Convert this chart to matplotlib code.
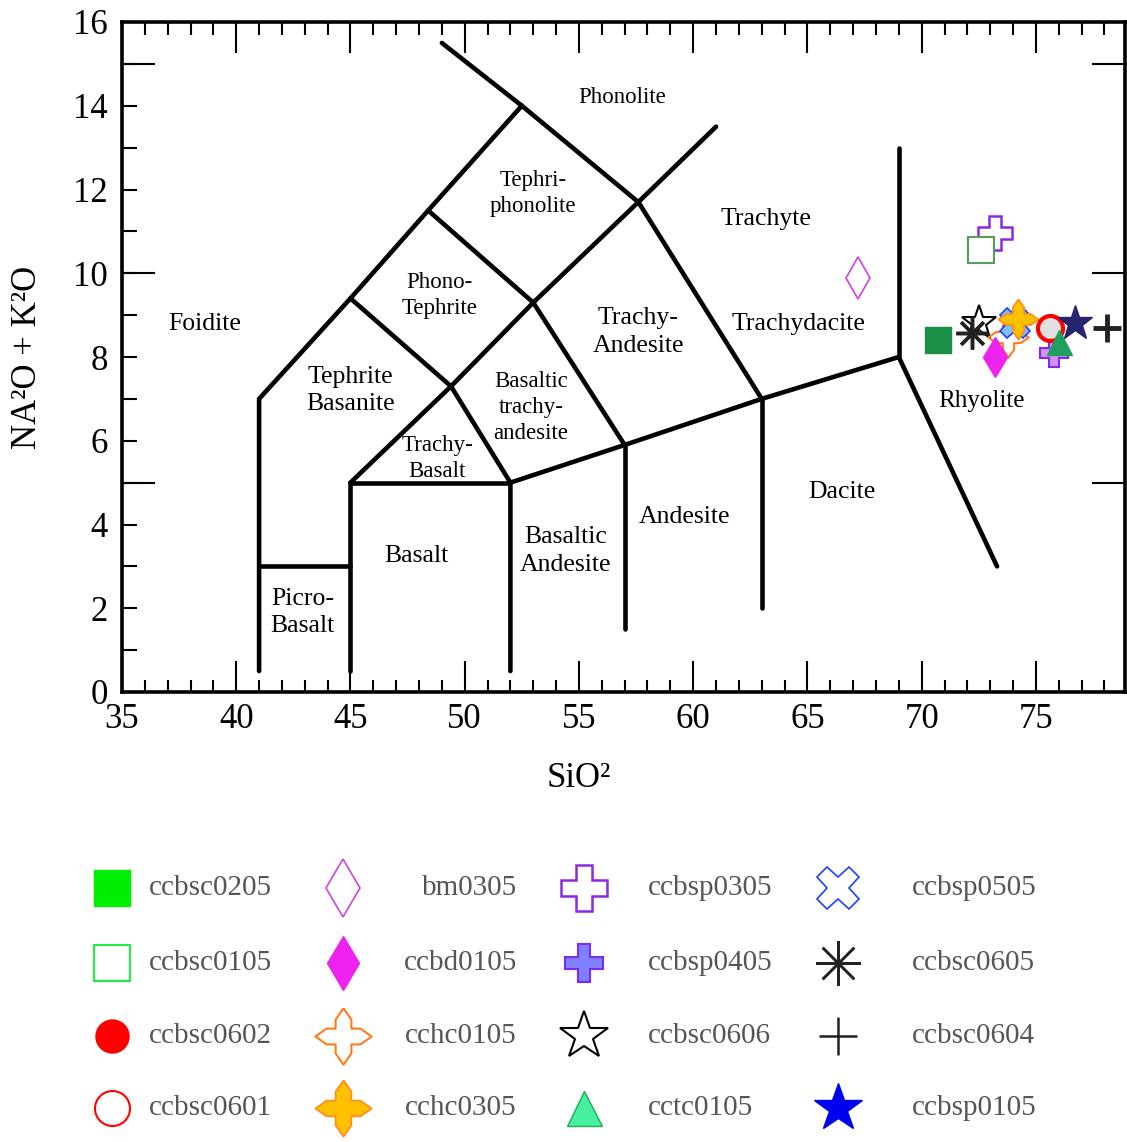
import matplotlib
matplotlib.use("Agg")
import matplotlib.pyplot as plt
from matplotlib.path import Path
from matplotlib.ticker import MultipleLocator

plt.rcParams['font.family'] = ['Liberation Serif', 'DejaVu Serif']

# Données : échantillons
noms = ["ccbsc0205", "ccbsc0105", "ccbsc0602", "ccbsc0601",
        "bm0305", "ccbd0105", "cchc0105", "cchc0305",
        "ccbsp0305", "ccbsp0405", "ccbsc0606", "cctc0105",
        "ccbsp0505", "ccbsc0605", "ccbsc0604", "ccbsp0105"]
sio2 = [70.7, 72.6, 75.6, 75.6, 67.2, 73.2, 73.8, 74.2,
        73.2, 75.8, 72.5, 76.0, 74.1, 72.2, 78.1, 76.7]
alcalins = [8.4, 10.55, 8.7, 8.7, 9.88, 8.0, 8.47, 8.9,
            10.95, 8.1, 8.8, 8.35, 8.8, 8.57, 8.7, 8.8]

# Limites du diagramme TAS (SiO2, Na2O+K2O)
limites = [
    [(41, 0.5), (41, 7), (45, 9.4), (48.4, 11.5), (52.5, 14), (57.6, 11.7), (63, 7)],
    [(49.0, 15.5), (52.5, 14)],
    [(41, 3), (45, 3)],
    [(45, 0.5), (45, 5), (52, 5)],
    [(52, 0.5), (52, 5), (57, 5.9), (63, 7), (69, 8), (73.3, 3)],
    [(57, 1.5), (57, 5.9)],
    [(63, 2), (63, 7)],
    [(69, 8), (69, 13)],
    [(45, 5), (49.4, 7.3), (53, 9.3), (57.6, 11.7), (61, 13.5)],
    [(48.4, 11.5), (53, 9.3), (57, 5.9)],
    [(45, 9.4), (49.4, 7.3), (52, 5)],
]

roches = ["Phonolite", "Tephri-\nphonolite", "Trachyte", "Phono-\nTephrite", "Foidite",
          "Trachy-\nAndesite", "Trachydacite", "Tephrite\nBasanite", "Basaltic\ntrachy-\nandesite",
          "Rhyolite", "Trachy-\nBasalt", "Dacite", "Andesite", "Basaltic\nAndesite", "Basalt",
          "Picro-\nBasalt"]
roche_x = [56.9, 53.0, 63.2, 48.9, 38.6, 57.6, 64.6, 45.0, 52.9, 72.6, 48.8, 66.5, 59.6, 54.4, 47.9, 42.9]
roche_y = [14.2, 11.9, 11.3, 9.47, 8.78, 8.6, 8.78, 7.2, 6.8, 6.95, 5.58, 4.77, 4.18, 3.37, 3.25, 1.9]
roche_taille = [16.5, 16.5, 18.5, 16.5, 18.5, 18.5, 18.5, 18.5, 16.5, 18, 16.5, 18.5, 18.5, 18.5, 18.5, 18.5]

# Symbole croix à quatre pointes
croix4 = Path([(0, 1), (0.28, 0.6), (0.28, 0.28), (0.6, 0.28), (1, 0), (0.6, -0.28),
               (0.28, -0.28), (0.28, -0.6), (0, -1), (-0.28, -0.6), (-0.28, -0.28),
               (-0.6, -0.28), (-1, 0), (-0.6, 0.28), (-0.28, 0.28), (-0.28, 0.6), (0, 1)])

styles = {
    "ccbsc0205": dict(marker="s", ms=19, mfc="#1b8f44", mec="#1b8f44"),
    "ccbsc0105": dict(marker="s", ms=19, mfc="white", mec="#5a9a5a", mew=1.5),
    "ccbsc0602": dict(marker="o", ms=17, mfc="red", mec="red"),
    "ccbsc0601": dict(marker="o", ms=18, mfc="#e0e0e0", mec="red", mew=3),
    "bm0305": dict(marker="d", ms=21, mfc="white", mec="#cc44dd", mew=1.2),
    "ccbd0105": dict(marker="d", ms=20, mfc="#ee22ee", mec="#ee22ee"),
    "cchc0105": dict(marker=croix4, ms=29, mfc="none", mec="#ff7a1a", mew=1.5),
    "cchc0305": dict(marker=croix4, ms=29, mfc="#ffc000", mec="#ff8c1a", mew=1.2),
    "ccbsp0305": dict(marker="P", ms=24, mfc="white", mec="#8a2be2", mew=1.8),
    "ccbsp0405": dict(marker="P", ms=20, mfc="#d890f0", mec="#7b2cf0", mew=1.5),
    "ccbsc0606": dict(marker="*", ms=26, mfc="white", mec="black", mew=1.5),
    "cctc0105": dict(marker="^", ms=18, mfc="#20a060", mec="#20a060"),
    "ccbsp0505": dict(marker="X", ms=22, mfc="#80c0ff", mec="#2040ff", mew=1.2),
    "ccbsc0605": dict(marker=(8, 2, 0), ms=23, color="#222222", mew=2.5),
    "ccbsc0604": dict(marker="+", ms=20, color="#222222", mew=3.5),
    "ccbsp0105": dict(marker="*", ms=26, mfc="#262670", mec="#262670"),
}
# couleurs différentes dans la légende
legende_style = {
    "ccbsc0205": dict(mfc="#00ee00", mec="#00ee00"),
    "ccbsc0105": dict(mec="#22ee44"),
    "ccbsc0601": dict(mfc="white", mew=1.5),
    "cchc0105": dict(mfc="white"),
    "ccbsp0405": dict(mfc="#8080ff"),
    "ccbsp0505": dict(mfc="white"),
    "cctc0105": dict(mfc="#44f0a0", mec="#22aa55"),
    "ccbsp0105": dict(mfc="#0000ee", mec="#0000ee"),
    "ccbsc0605": dict(mew=1.8),
    "ccbsc0604": dict(mew=1.8),
}
ordre = ["ccbsp0305", "ccbsc0105", "ccbsc0205", "ccbsc0606", "ccbsc0605", "bm0305",
         "cchc0105", "ccbsp0505", "ccbd0105", "cchc0305", "ccbsp0405", "ccbsc0602",
         "ccbsc0601", "cctc0105", "ccbsp0105", "ccbsc0604"]

fig = plt.figure(figsize=(11.27, 11.42), dpi=100)
ax = fig.add_axes([122 / 1127, 1 - 692 / 1142, 1003 / 1127, 670 / 1142])

for ligne in limites:
    xs = [p[0] for p in ligne]
    ys = [p[1] for p in ligne]
    ax.plot(xs, ys, color="black", lw=3.3, solid_capstyle="round", solid_joinstyle="miter", zorder=2)

for nom, x, y, t in zip(roches, roche_x, roche_y, roche_taille):
    ax.text(x, y, nom, ha="center", va="center", fontsize=t, linespacing=1.32, zorder=2)

for nom in ordre:
    i = noms.index(nom)
    ax.plot(sio2[i], alcalins[i], linestyle="none", zorder=4, **styles[nom])

ax.set_xlim(35, 78.9)
ax.set_ylim(0, 16)
ax.xaxis.set_major_locator(MultipleLocator(5))
ax.xaxis.set_minor_locator(MultipleLocator(1))
ax.yaxis.set_major_locator(MultipleLocator(2))
ax.yaxis.set_minor_locator(MultipleLocator(1))
ax.tick_params(axis="x", which="major", direction="in", length=22, width=1.5,
               top=True, labelsize=25, pad=8)
ax.tick_params(axis="x", which="minor", direction="in", length=9, width=1.5, top=True)
ax.tick_params(axis="y", which="both", direction="in", length=11, width=1.5,
               right=True, labelsize=25, pad=10)
for s in ax.spines.values():
    s.set_linewidth(2.6)

# grands traits à 5, 10, 15
ax2 = ax.twinx()
ax2.set_ylim(0, 16)
ax2.set_yticks([5, 10, 15])
ax2.tick_params(axis="y", direction="in", length=24, width=1.5, left=True, right=True,
                labelleft=False, labelright=False)
for s in ax2.spines.values():
    s.set_visible(False)

ax.set_xlabel("SiO²", fontsize=25)
ax.xaxis.set_label_coords(0.455, -0.105)
ax.set_ylabel("NA²O + K²O", fontsize=25)
ax.yaxis.set_label_coords(-0.078, 0.5)

# Légende
leg = fig.add_axes([0, 0, 1, 300 / 1142])
leg.set_xlim(0, 1127)
leg.set_ylim(1142, 842)
leg.axis("off")
col_marque = [112, 343, 584, 838]
col_texte = [149, 517, 648, 912]
col_align = ["left", "right", "left", "left"]
rangs = [888, 963, 1036, 1108]
for k, nom in enumerate(noms):
    c, r = k // 4, k % 4
    st = dict(styles[nom])
    st.update(legende_style.get(nom, {}))
    st["ms"] = st["ms"] * 1.4
    leg.plot(col_marque[c], rangs[r], linestyle="none", clip_on=False, **st)
    leg.text(col_texte[c], rangs[r], nom, ha=col_align[c], va="center",
             fontsize=21, color="#555555")

fig.savefig("out.png", dpi=100)
